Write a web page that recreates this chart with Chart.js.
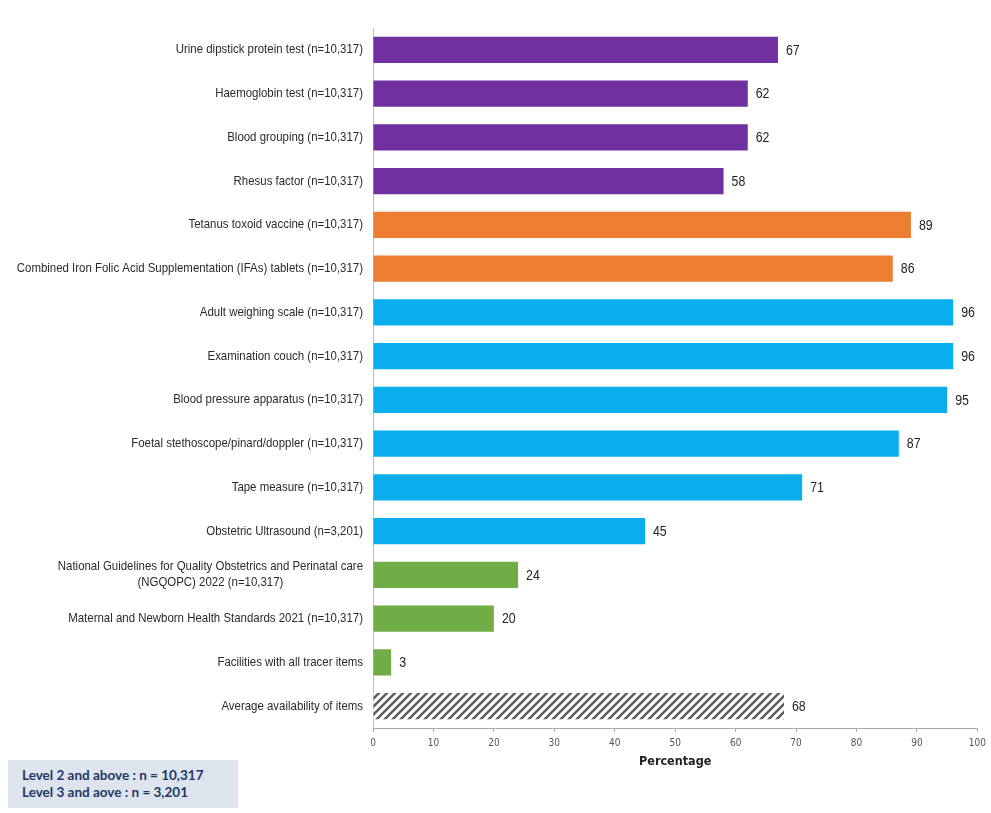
<!DOCTYPE html>
<html>
<head>
<meta charset="utf-8">
<script src="https://cdn.jsdelivr.net/npm/chart.js@4.4.1/dist/chart.umd.min.js"></script>
<style>
  body { margin: 0; background: #fff; }
  .wrap { position: relative; width: 991px; height: 813px; }
  .note {
    position: absolute; left: 8px; top: 760px; width: 230px; height: 48px;
    background: #dde4ee; color: #1f3864; box-sizing: border-box;
    padding: 7px 0 0 14px; font: bold 13.5px Lato, 'Open Sans', sans-serif; line-height: 17px;
  }
</style>
</head>
<body>
<div class="wrap">
  <canvas id="tracer" width="991" height="813"></canvas>
  <div class="note">Level 2 and above : n = 10,317<br>Level 3 and aove : n = 3,201</div>
</div>
<script>
const labels = [
    'Urine dipstick protein test (n=10,317)',
    'Haemoglobin test (n=10,317)',
    'Blood grouping (n=10,317)',
    'Rhesus factor (n=10,317)',
    'Tetanus toxoid vaccine (n=10,317)',
    'Combined Iron Folic Acid Supplementation (IFAs) tablets (n=10,317)',
    'Adult weighing scale (n=10,317)',
    'Examination couch (n=10,317)',
    'Blood pressure apparatus (n=10,317)',
    'Foetal stethoscope/pinard/doppler (n=10,317)',
    'Tape measure (n=10,317)',
    'Obstetric Ultrasound (n=3,201)',
    ['National Guidelines for Quality Obstetrics and Perinatal care', '(NGQOPC) 2022 (n=10,317)'],
    'Maternal and Newborn Health Standards 2021 (n=10,317)',
    'Facilities with all tracer items',
    'Average availability of items'
];
const values = [67, 62, 62, 58, 89, 86, 96, 96, 95, 87, 71, 45, 24, 20, 3, 68];
const groups = ['test', 'test', 'test', 'test', 'medicine', 'medicine',
    'equipment', 'equipment', 'equipment', 'equipment', 'equipment', 'equipment',
    'guideline', 'guideline', 'guideline', 'average'];
const xTicks = [0, 10, 20, 30, 40, 50, 60, 70, 80, 90, 100];

const SANS = "'Liberation Sans', Arial, sans-serif";
const COND = "'DejaVu Sans Condensed', 'Liberation Sans', sans-serif";
const SQUEEZE = 0.88; // arial narrow look

// diagonal stripes for the average bar
function hatch() {
    const s = 8;
    const c = document.createElement('canvas');
    c.width = s; c.height = s;
    const g = c.getContext('2d');
    g.fillStyle = '#fff';
    g.fillRect(0, 0, s, s);
    g.strokeStyle = '#5e5e5e';
    g.lineWidth = 2.6;
    g.beginPath();
    g.moveTo(0, s); g.lineTo(s, 0);
    g.moveTo(-1, 1); g.lineTo(1, -1);
    g.moveTo(s - 1, s + 1); g.lineTo(s + 1, s - 1);
    g.stroke();
    return g.createPattern(c, 'repeat');
}

const colours = {
    test: '#7030a0',
    medicine: '#ed7d31',
    equipment: '#0aaeec',
    guideline: '#70ad47',
    average: hatch()
};

function narrowText(ctx, text, x, y, align) {
    const w = ctx.measureText(text).width * SQUEEZE;
    let left = x;
    if (align === 'right') left = x - w;
    if (align === 'center') left = x - w / 2;
    ctx.save();
    ctx.translate(left, y);
    ctx.scale(SQUEEZE, 1);
    ctx.textAlign = 'left';
    ctx.fillText(text, 0, 0);
    ctx.restore();
}

// category names left of the axis and values at the bar ends
const barText = {
    id: 'barText',
    afterDatasetsDraw(chart) {
        const ctx = chart.ctx;
        const yScale = chart.scales.y;
        const meta = chart.getDatasetMeta(0);
        ctx.save();
        ctx.textBaseline = 'middle';
        ctx.fillStyle = '#2a2a2a';
        ctx.font = '13px ' + SANS;
        const right = yScale.right - 10;
        labels.forEach((lab, i) => {
            const y = yScale.getPixelForValue(i);
            if (Array.isArray(lab)) {
                const w = Math.max(...lab.map(l => ctx.measureText(l).width)) * SQUEEZE;
                lab.forEach((l, k) => narrowText(ctx, l, right - w / 2, y + (k - (lab.length - 1) / 2) * 16, 'center'));
            } else {
                narrowText(ctx, lab, right, y, 'right');
            }
        });
        ctx.fillStyle = '#222';
        ctx.font = '14px ' + SANS;
        meta.data.forEach((bar, i) => {
            ctx.save();
            ctx.translate(bar.x + 8, bar.y + 1);
            ctx.scale(0.88, 1);
            ctx.textAlign = 'left';
            ctx.fillText(values[i], 0, 0);
            ctx.restore();
        });
        ctx.restore();
    }
};

new Chart(document.getElementById('tracer'), {
    type: 'bar',
    data: {
        labels: labels,
        datasets: [{
            data: values,
            backgroundColor: groups.map(g => colours[g]),
            barPercentage: 0.6,
            categoryPercentage: 1
        }]
    },
    options: {
        indexAxis: 'y',
        responsive: false,
        animation: false,
        layout: { padding: { left: 0, right: 13, top: 28, bottom: 44 } },
        scales: {
            y: {
                ticks: { display: false },
                grid: { display: false },
                border: { display: true, color: '#bbb' },
                afterFit: s => { s.width = 373; }
            },
            x: {
                min: 0,
                max: 100,
                afterBuildTicks: s => { s.ticks = xTicks.map(v => ({ value: v })); },
                ticks: { color: '#555', font: { family: COND, size: 10 }, padding: 5 },
                grid: { drawOnChartArea: false, drawTicks: true, tickLength: 4, color: '#aaa' },
                border: { display: true, color: '#aaa' },
                title: {
                    display: true,
                    text: 'Percentage',
                    color: '#222',
                    font: { family: COND, size: 12.5, weight: 'bold' },
                    padding: { top: 4, bottom: 0 }
                },
                afterFit: s => { s.height = 41; }
            }
        },
        plugins: {
            legend: { display: false },
            tooltip: { enabled: false }
        }
    },
    plugins: [barText]
});
</script>
</body>
</html>
